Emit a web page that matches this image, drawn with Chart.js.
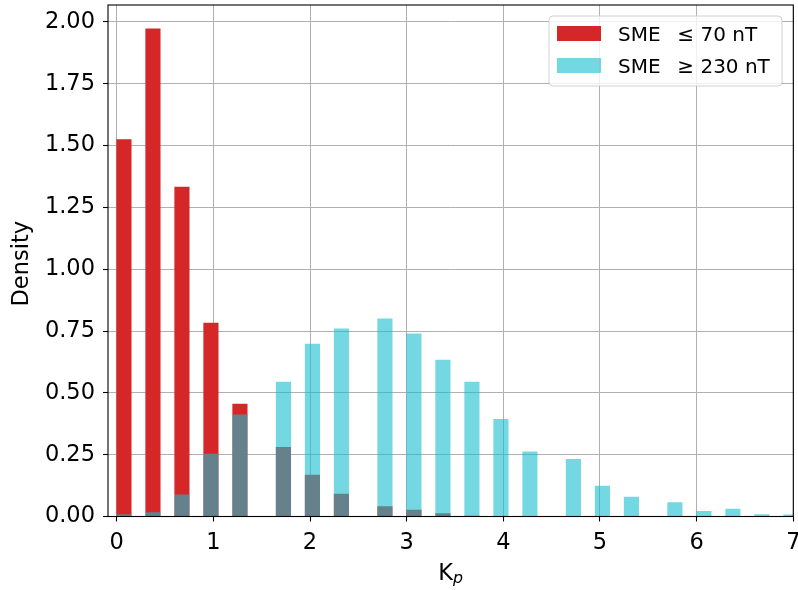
<!DOCTYPE html>
<html>
<head>
<meta charset="utf-8">
<script src="https://cdn.jsdelivr.net/npm/chart.js@4/dist/chart.umd.min.js"></script>
<style>
  html, body { margin: 0; padding: 0; background: #ffffff; }
  canvas { display: block; }
</style>
</head>
<body>
<canvas id="chart" width="798" height="590"></canvas>
<script>
// Kp levels as reported (thirds rounded to one decimal)
const kpLevels = [0, 0.3, 0.7, 1.0, 1.3, 1.7, 2.0, 2.3, 2.7, 3.0, 3.3, 3.7, 4.0, 4.3, 4.7, 5.0, 5.3, 5.7, 6.0, 6.3, 6.7, 7.0];

// Normalised histogram density per Kp level
const quietDensity  = [1.524, 1.972, 1.332, 0.782, 0.455, 0.280, 0.168, 0.091, 0.040, 0.026, 0.012, 0.002, 0, 0, 0, 0, 0, 0, 0, 0, 0, 0];
const activeDensity = [0.008, 0.016, 0.088, 0.252, 0.411, 0.544, 0.697, 0.759, 0.799, 0.739, 0.633, 0.544, 0.393, 0.262, 0.231, 0.123, 0.079, 0.056, 0.021, 0.030, 0.008, 0.007];

const seriesLabels = ['SME  \u2009\u2264 70 nT', 'SME  \u2009\u2265 230 nT'];
const axisTitles = { y: 'Density', xMain: 'K', xSub: 'p' };

// Histogram binning
const binWidth = 0.15;
const binCount = 47;

function toBins(levels, density) {
  const bins = [];
  for (let i = 0; i < binCount; i++) {
    bins.push({ x: (i + 0.5) * binWidth, y: null });
  }
  const stepHundredths = Math.round(binWidth * 100);
  levels.forEach((kp, k) => {
    const idx = Math.floor(Math.round(kp * 100) / stepHundredths);
    if (idx < binCount && density[k] > 0) bins[idx].y = density[k];
  });
  return bins;
}

const FONT = 'DejaVu Sans';

// Box around the plotting area
const framePlugin = {
  id: 'frame',
  afterDraw(chart) {
    const { ctx, chartArea: a } = chart;
    ctx.save();
    ctx.strokeStyle = '#000000';
    ctx.lineWidth = 1.1;
    ctx.strokeRect(a.left, a.top, a.right - a.left, a.bottom - a.top);
    ctx.restore();
  }
};

// Legend box in the upper right corner of the plot
const insideLegend = {
  id: 'insideLegend',
  afterDraw(chart) {
    const { ctx } = chart;
    const box = { x: 549, y: 16, w: 233, h: 70, r: 4 };
    ctx.save();
    ctx.beginPath();
    ctx.roundRect(box.x, box.y, box.w, box.h, box.r);
    ctx.fillStyle = 'rgba(255,255,255,0.8)';
    ctx.fill();
    ctx.strokeStyle = 'rgba(204,204,204,0.9)';
    ctx.lineWidth = 1;
    ctx.stroke();
    ctx.font = '20px "' + FONT + '"';
    ctx.textBaseline = 'alphabetic';
    ctx.textAlign = 'left';
    chart.data.datasets.forEach((ds, i) => {
      const rowTop = box.y + 10 + i * 32;
      ctx.fillStyle = ds.backgroundColor;
      ctx.fillRect(box.x + 8, rowTop, 44, 15);
      ctx.fillStyle = '#000000';
      ctx.fillText(ds.label, box.x + 69, rowTop + 15);
    });
    ctx.restore();
  }
};

// Axis titles (x title has a subscript)
const axisTitlePlugin = {
  id: 'axisTitles',
  afterDraw(chart) {
    const { ctx, chartArea: a } = chart;
    ctx.save();
    ctx.fillStyle = '#000000';
    // y title
    ctx.font = '22.5px "' + FONT + '"';
    ctx.textAlign = 'center';
    ctx.textBaseline = 'alphabetic';
    ctx.save();
    ctx.translate(27.7, (a.top + a.bottom) / 2 + 3);
    ctx.rotate(-Math.PI / 2);
    ctx.fillText(axisTitles.y, 0, 0);
    ctx.restore();
    // x title: K with italic subscript p
    const mainFont = '22.5px "' + FONT + '"';
    const subFont = 'italic 15.75px "' + FONT + '"';
    ctx.font = mainFont;
    const wMain = ctx.measureText(axisTitles.xMain).width;
    ctx.font = subFont;
    const wSub = ctx.measureText(axisTitles.xSub).width;
    const total = wMain + wSub;
    const cx = (a.left + a.right) / 2;
    const x0 = cx - total / 2;
    ctx.textAlign = 'left';
    ctx.font = mainFont;
    ctx.fillText(axisTitles.xMain, x0, 579.5);
    ctx.font = subFont;
    ctx.fillText(axisTitles.xSub, x0 + wMain, 582.5);
    ctx.restore();
  }
};

const ctx = document.getElementById('chart').getContext('2d');
new Chart(ctx, {
  type: 'bar',
  data: {
    datasets: [
      {
        label: seriesLabels[0],
        data: toBins(kpLevels, quietDensity),
        backgroundColor: '#d62728',
        borderWidth: 0,
        order: 2,
        clip: 0
      },
      {
        label: seriesLabels[1],
        data: toBins(kpLevels, activeDensity),
        backgroundColor: 'rgba(23,190,207,0.6)',
        borderWidth: 0,
        order: 1,
        clip: 0
      }
    ]
  },
  options: {
    responsive: false,
    animation: false,
    devicePixelRatio: 1,
    layout: { padding: { left: 0, top: 5, right: 4.7, bottom: 0 } },
    datasets: {
      bar: { grouped: false, barPercentage: 1, categoryPercentage: 1 }
    },
    plugins: {
      legend: { display: false },
      tooltip: { enabled: false }
    },
    scales: {
      x: {
        type: 'linear',
        min: -0.09,
        max: 7,
        offset: false,
        z: 1,
        border: { display: false },
        grid: {
          color: '#b0b0b0',
          lineWidth: 1,
          offset: false,
          drawTicks: true,
          tickLength: 5,
          tickColor: '#000000',
          tickWidth: 1.1
        },
        ticks: {
          stepSize: 1,
          includeBounds: false,
          autoSkip: false,
          maxRotation: 0,
          color: '#000000',
          padding: 8,
          font: { family: FONT, size: 22.5 }
        },
        afterFit(scale) {
          scale.height = 73.5;
          scale.paddingLeft = 0;
          scale.paddingRight = 0;
        }
      },
      y: {
        min: 0,
        max: 2.0685,
        z: 1,
        border: { display: false },
        grid: {
          color: '#b0b0b0',
          lineWidth: 1,
          drawTicks: true,
          tickLength: 5,
          tickColor: '#000000',
          tickWidth: 1.1
        },
        ticks: {
          stepSize: 0.25,
          includeBounds: false,
          autoSkip: false,
          color: '#000000',
          padding: 8,
          font: { family: FONT, size: 22.5 },
          callback: (v) => v.toFixed(2)
        },
        afterFit(scale) {
          scale.width = 108;
          scale.paddingTop = 0;
          scale.paddingBottom = 0;
        }
      }
    }
  },
  plugins: [framePlugin, insideLegend, axisTitlePlugin]
});
</script>
</body>
</html>
